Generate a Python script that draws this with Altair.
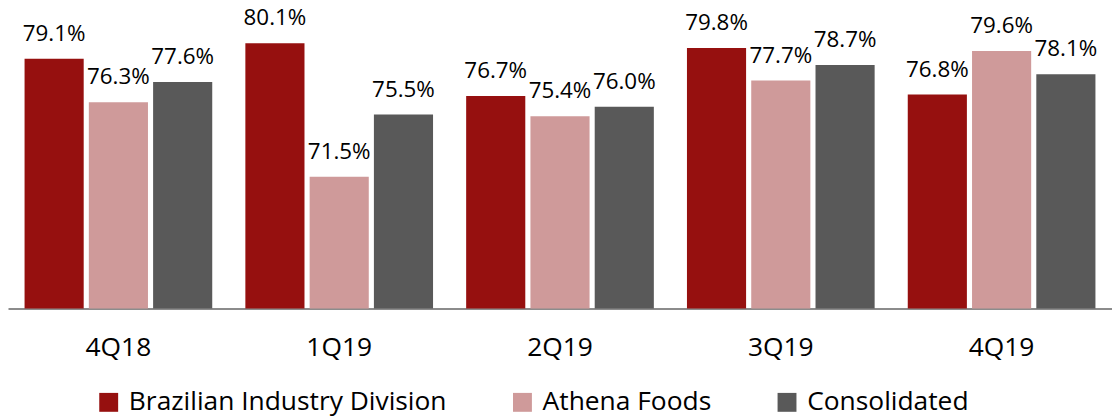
import altair as alt
import pandas as pd

quarters = ["4Q18", "1Q19", "2Q19", "3Q19", "4Q19"]
series = ["Brazilian Industry Division", "Athena Foods", "Consolidated"]
brazil = [79.1, 80.1, 76.7, 79.8, 76.8]
athena = [76.3, 71.5, 75.4, 77.7, 79.6]
consolidated = [77.6, 75.5, 76.0, 78.7, 78.1]
colors = ["#96100F", "#CF9A9A", "#595959"]

rows = []
for i, q in enumerate(quarters):
    for s, vals in zip(series, [brazil, athena, consolidated]):
        rows.append({"quarter": q, "series": s, "value": vals[i],
                     "label": f"{vals[i]:.1f}%"})
df = pd.DataFrame(rows)

FONT = "Open Sans"

x = alt.X("quarter:N", sort=quarters, title=None,
          scale=alt.Scale(paddingInner=0.15, paddingOuter=0.075),
          axis=alt.Axis(labelAngle=0, labelFontSize=26.5, labelFont=FONT,
                        labelColor="#000000", labelPadding=26, ticks=False,
                        domainColor="#8c8c8c", domainWidth=2))
xoff = alt.XOffset("series:N", sort=series,
                   scale=alt.Scale(paddingInner=0.08, paddingOuter=0))
y = alt.Y("value:Q", scale=alt.Scale(domain=[63, 82.3], clamp=True, nice=False, zero=False),
          axis=None)

bars = alt.Chart(df).mark_bar().encode(
    x=x, xOffset=xoff, y=y, y2=alt.datum(63),
    color=alt.Color("series:N", sort=series,
                    scale=alt.Scale(domain=series, range=colors),
                    legend=alt.Legend(title=None, orient="none", direction="horizontal",
                                      legendX=88, legendY=382,
                                      symbolType="square", symbolSize=361,
                                      symbolStrokeWidth=0, labelLimit=0,
                                      labelFontSize=26.5, labelFont=FONT,
                                      labelColor="#000000", columnPadding=62,
                                      labelOffset=7))
)

labels = alt.Chart(df).mark_text(baseline="alphabetic", dy=-18, fontSize=22.5,
                                 font=FONT, color="#000000").encode(
    x=x, xOffset=xoff, y=y, text="label:N"
)

chart = alt.layer(bars, labels).properties(
    width=1110, height=301,
    autosize=alt.AutoSizeParams(type="none"),
    padding={"left": 0, "top": 0, "right": 0, "bottom": 110},
).configure_view(stroke=None)

chart.save("out.html", embed_options={"renderer": "svg", "actions": False})
